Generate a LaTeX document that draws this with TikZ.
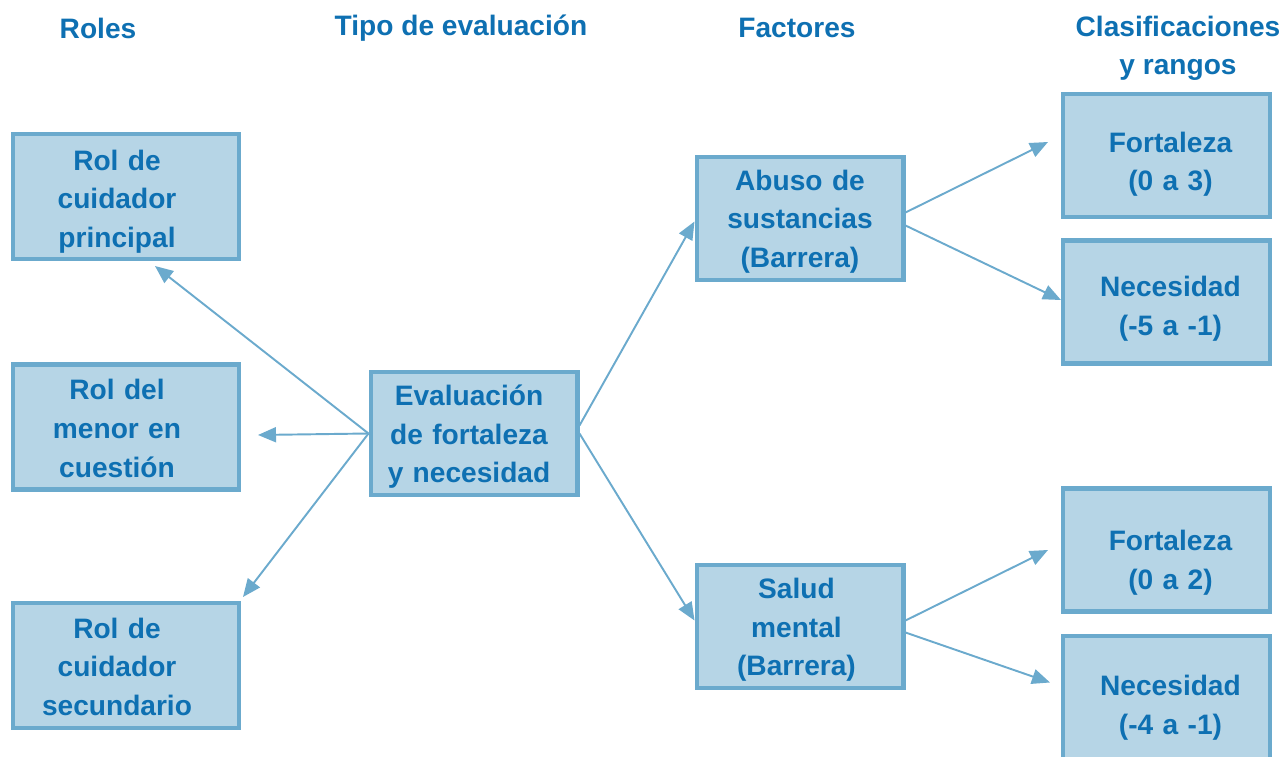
\documentclass[tikz,border=0pt]{standalone}
\usepackage{fontspec}
\setmainfont{Liberation Sans}
\usepackage{tikz}
\usetikzlibrary{shapes.geometric, arrows.meta}
\definecolor{boxfill}{RGB}{182,213,230}
\definecolor{boxline}{RGB}{107,170,205}
\definecolor{txtblue}{RGB}{14,112,178}
\tikzstyle{box} = [rectangle, draw=boxline, line width=2.3pt, fill=boxfill, text=txtblue, inner sep=2pt, execute at begin node=\centering, font=\fontsize{16}{22}\selectfont\bfseries]
\tikzstyle{rolebox} = [box, minimum width=4.52cm, minimum height=2.5cm, text width=4.3cm, execute at begin node={\centering\rightskip=0.36cm plus 1fil}]
\tikzstyle{midbox} = [box, minimum width=4.14cm, minimum height=2.46cm, text width=3.9cm]
\tikzstyle{rangebox} = [midbox, execute at begin node={\centering\leftskip=0.16cm plus 1fil}]
\tikzstyle{head} = [text=txtblue, align=center, font=\fontsize{16}{21.5}\selectfont\bfseries]
\tikzstyle{arrow} = [line width=1.1pt, draw=boxline, -{Triangle[length=0.36cm,width=0.3cm]}, boxline]

\begin{document}
\begin{tikzpicture}[x=0.02cm, y=-0.02cm]
\useasboundingbox (0,0) rectangle (1286,757);
% column headers
\node (hroles) [head] at (98,28) {Roles};
\node (htipo) [head] at (461,28) {Tipo de evaluación};
\node (hfact) [head] at (797,28) {Factores};
\node (hclas) [head] at (1178,48.5) {Clasificaciones\\y rangos};
% roles
\node (rp) [rolebox, text height=17.2pt] at (126,196.5) {Rol de\\cuidador\\principal};
\node (rm) [rolebox, text height=13.2pt] at (126,427) {Rol del\\menor en\\cuestión};
\node (rs) [rolebox, text height=13.2pt] at (126,665.5) {Rol de\\cuidador\\secundario};
% evaluation and factors
\node (ev) [midbox, text height=15.5pt, execute at begin node={\centering\rightskip=0.2cm plus 1fil}] at (474,433.5) {Evaluación\\de fortaleza\\y necesidad};
\node (ab) [midbox, text height=14.9pt] at (800,218.5) {Abuso de\\sustancias\\(Barrera)};
\node (sm) [midbox, text height=15.5pt, execute at begin node={\centering\rightskip=0.14cm plus 1fil}] at (800,626.5) {Salud\\mental\\(Barrera)};
% ranges
\node (f1) [rangebox, text height=21.7pt] at (1166.5,155.5) {Fortaleza\\(0 a 3)};
\node (n1) [rangebox, text height=19.5pt] at (1166.5,302) {Necesidad\\(-5 a -1)};
\node (f2) [rangebox, text height=26.3pt] at (1166.5,550) {Fortaleza\\(0 a 2)};
\node (n2) [rangebox, text height=22.9pt] at (1166.5,697.5) {Necesidad\\(-4 a -1)};
% connectors
\draw [arrow] (ev.west) -- ([xshift=0.58cm,yshift=-0.1cm]rp.south);
\draw [arrow] (ev.west) -- ([xshift=0.34cm,yshift=-0.16cm]rm.east);
\draw [arrow] (ev.west) -- ([xshift=0.04cm,yshift=0.08cm]rs.north east);
\draw [arrow] ([yshift=0.16cm]ev.east) -- ([yshift=-0.06cm]ab.west);
\draw [arrow] (ev.east) -- ([yshift=0.12cm]sm.west);
\draw [arrow] ([yshift=0.12cm]ab.east) -- ([xshift=-0.26cm,yshift=0.27cm]f1.west);
\draw [arrow] ([yshift=-0.14cm]ab.east) -- ([yshift=0.04cm]n1.west);
\draw [arrow] ([yshift=0.12cm]sm.east) -- ([xshift=-0.26cm]f2.west);
\draw [arrow] ([yshift=-0.12cm]sm.east) -- ([xshift=-0.22cm,yshift=0.3cm]n2.west);
\end{tikzpicture}
\end{document}
